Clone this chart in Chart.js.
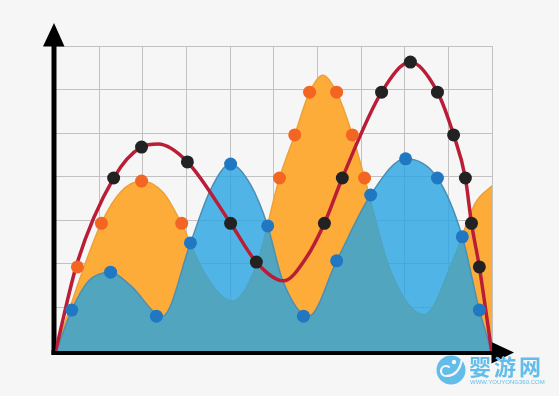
<!DOCTYPE html>
<html><head><meta charset="utf-8">
<style>html,body{margin:0;padding:0;background:#f6f6f6;overflow:hidden}canvas{display:block}</style>
<script src="https://cdn.jsdelivr.net/npm/chart.js@4"></script></head>
<body><canvas id="c" width="559" height="396"></canvas>
<script>
const orangeX=[0,0.57,1.05,1.49,1.97,2.47,2.89,3.44,4.05,4.60,5.13,5.48,5.82,6.12,6.44,6.80,7.08,7.67,8.45,9.09,9.62,10];
const orangeY=[0,1.70,2.94,3.65,3.90,3.63,2.91,1.74,1.15,1.97,3.97,4.96,5.94,6.33,5.94,4.96,3.97,1.86,0.83,2.04,3.40,3.79];
const blueX=[0.02,0.37,0.76,1.26,1.72,2.45,3.09,3.55,4.01,4.47,4.86,5.20,5.80,6.44,7.22,8.02,8.75,9.32,9.71,9.99];
const blueY=[0,0.94,1.61,1.81,1.50,0.80,2.48,3.70,4.29,3.81,2.87,1.63,0.80,2.07,3.58,4.41,3.97,2.62,0.94,0];
const redX=[0,0.50,1.33,1.97,2.35,3.02,4.01,4.60,5.22,5.75,6.16,6.57,7.47,8.13,8.75,9.12,9.39,9.53,9.71,9.99];
const redY=[0,2.04,3.97,4.68,4.75,4.34,2.93,2.04,1.61,2.15,2.93,3.97,5.94,6.63,5.94,4.96,3.97,2.93,1.93,0];
const orangeDotX=[0.50,1.05,1.97,2.89,5.13,5.48,5.82,6.44,6.80,7.08];
const orangeDotY=[1.93,2.93,3.90,2.93,3.97,4.96,5.94,5.94,4.96,3.97];
const blueDotX=[0.37,1.26,2.31,3.09,4.01,4.86,5.68,6.44,7.22,8.02,8.75,9.32,9.71];
const blueDotY=[0.94,1.81,0.80,2.48,4.29,2.87,0.80,2.07,3.58,4.41,3.97,2.62,0.94];
const blackDotX=[1.33,1.97,3.02,4.01,4.60,6.16,6.57,7.47,8.13,8.75,9.12,9.39,9.53,9.71];
const blackDotY=[3.97,4.68,4.34,2.93,2.04,2.93,3.97,5.94,6.63,5.94,4.96,3.97,2.93,1.93];
const xTickMax=10, yTickMax=7;
const watermarkTitle='婴游网', watermarkUrl='WWW.YOUYONG360.COM';
const pts=(a,b)=>a.map((x,i)=>({x,y:b[i]}));

const decor={id:'decor',
 beforeDatasetsDraw(ch){
  const {ctx,chartArea:a}=ch;
  ctx.save();ctx.fillStyle='#000';
  ctx.fillRect(51.5,a.top,5,355-a.top);
  ctx.fillRect(51.5,350,a.right-51.5,5);
  ctx.beginPath();ctx.moveTo(54,23);ctx.lineTo(64.5,46.5);ctx.lineTo(43,46.5);ctx.closePath();ctx.fill();
  ctx.beginPath();ctx.moveTo(514,352.5);ctx.lineTo(491.5,342);ctx.lineTo(491.5,363.5);ctx.closePath();ctx.fill();
  ctx.restore();
 },
 afterDraw(ch){
  const c=ch.ctx;c.save();
  c.fillStyle='#62bdea';
  c.beginPath();c.arc(451,370,14.5,0,Math.PI*2);c.fill();
  c.strokeStyle='#f6f6f6';c.lineWidth=2.2;c.lineCap='round';
  c.beginPath();c.arc(446,371,5,Math.PI*0.5,Math.PI*1.7);c.stroke();
  c.beginPath();c.moveTo(446,376);c.quadraticCurveTo(459,376,462,359);c.stroke();
  c.beginPath();c.arc(454,362,2.2,0,Math.PI*2);c.fillStyle='#f6f6f6';c.fill();
  c.fillStyle='#62bdea';c.textBaseline='alphabetic';c.textAlign='left';
  c.font='bold 22px "Noto Sans CJK SC"';c.letterSpacing='3px';
  c.fillText(watermarkTitle,469,375);
  c.font='6px "Liberation Sans"';c.letterSpacing='0px';
  c.fillText(watermarkUrl,470,384);
  c.restore();
 }};

const dot=(data,color,order)=>({data,showLine:false,pointRadius:6.5,pointHoverRadius:6.5,pointBackgroundColor:color,pointBorderWidth:0,order});
new Chart(document.getElementById('c'),{
 type:'scatter',
 data:{datasets:[
  {data:pts(orangeX,orangeY),showLine:true,fill:'origin',backgroundColor:'#fdac3a',borderColor:'#eda136',borderWidth:1.5,pointRadius:0,cubicInterpolationMode:'monotone',order:6},
  {data:pts(blueX,blueY),showLine:true,fill:'origin',backgroundColor:'rgba(36,164,226,0.79)',borderColor:'#4b8fb4',borderWidth:1.5,pointRadius:0,cubicInterpolationMode:'monotone',order:5},
  {data:pts(redX,redY),showLine:true,fill:false,borderColor:'#b91e36',borderWidth:3.5,pointRadius:0,cubicInterpolationMode:'monotone',order:4},
  dot(pts(orangeDotX,orangeDotY),'#f26522',3),
  dot(pts(blueDotX,blueDotY),'#1f78c1',2),
  dot(pts(blackDotX,blackDotY),'#222222',1)
 ]},
 options:{responsive:false,animation:false,devicePixelRatio:1,
  layout:{padding:{left:55.6,right:67,top:46,bottom:45}},
  plugins:{legend:{display:false},tooltip:{enabled:false},title:{display:false}},
  scales:{
   x:{type:'linear',min:0,max:xTickMax,ticks:{display:false,stepSize:1},border:{display:false},grid:{color:'#c2c2c2',lineWidth:1,drawTicks:false}},
   y:{type:'linear',min:0,max:yTickMax,ticks:{display:false,stepSize:1},border:{display:false},grid:{color:'#c2c2c2',lineWidth:1,drawTicks:false}}
  }},
 plugins:[decor]
});
</script></body></html>
